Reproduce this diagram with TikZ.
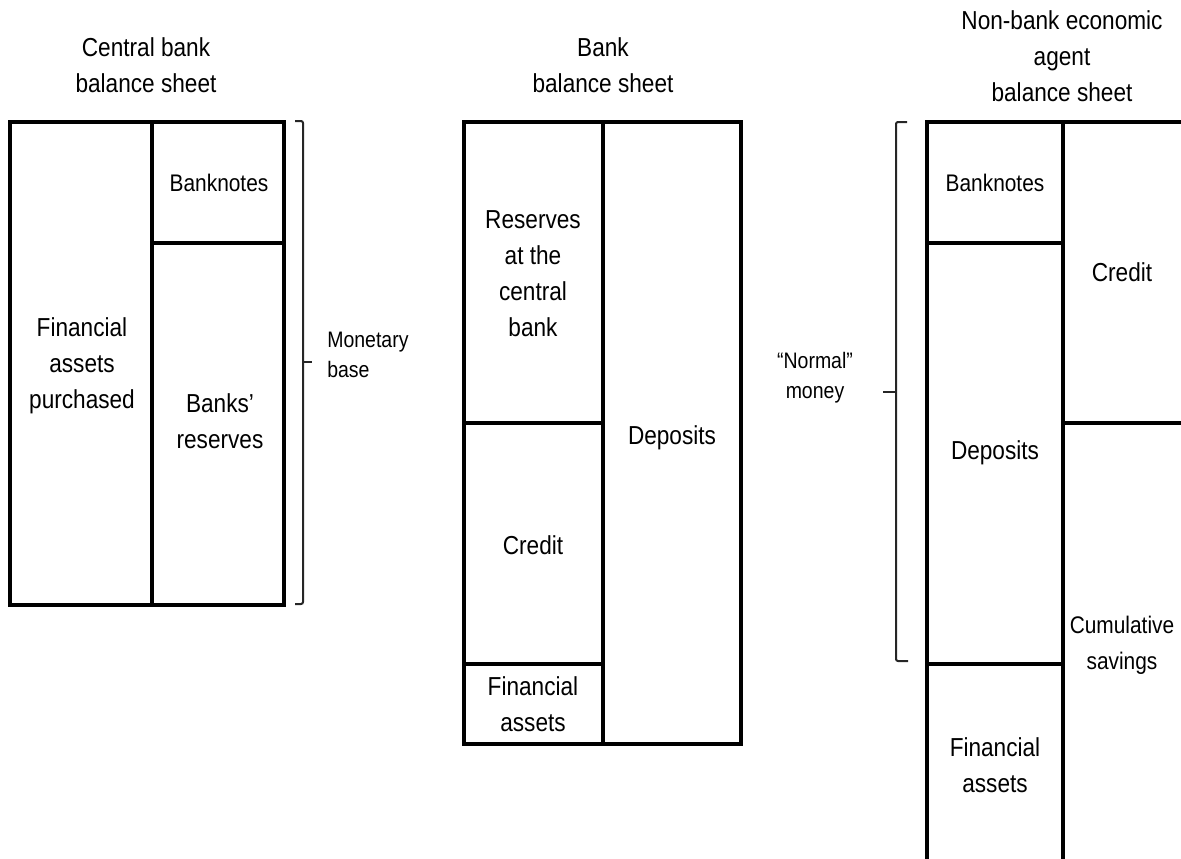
\documentclass[tikz,border=0pt]{standalone}
\usepackage{fontspec}
\setmainfont[FakeStretch=0.87]{Liberation Sans}
\begin{document}
\begin{tikzpicture}[x=0.75pt,y=-0.75pt,
  sheet/.style={line width=2.3pt,line cap=rect},
  brace/.style={line width=1.5pt,rounded corners=1.5pt,black!85},
  big/.style={align=center,font=\fontsize{19.5}{27}\selectfont,inner sep=0pt},
  mid/.style={align=center,font=\fontsize{18}{27}\selectfont,inner sep=0pt},
  small/.style={align=center,font=\fontsize{16.8}{22.5}\selectfont,inner sep=0pt}]
\useasboundingbox (0,0) rectangle (1181,858);
\clip (0,0) rectangle (1181,858);
% titles
\node[big] (t1) at (146,65) {Central bank\\balance sheet};
\node[big] (t2) at (603,65) {Bank\\balance sheet};
\node[big] (t3) at (1062,56) {Non-bank economic\\agent\\balance sheet};
% central bank
\draw[sheet] (10,122) rectangle (284,605);
\draw[sheet] (152,122) -- (152,605);
\draw[sheet] (152,243) -- (284,243);
\node[big] (cbfa) at (82,366) {Financial\\assets\\purchased};
\node[mid] (cbbn) at (219,183) {Banknotes};
\node[big] (cbres) at (220,421) {Banks’\\reserves};
% monetary base bracket
\draw[brace] (295,121) -- (303,121) -- (303,604) -- (295,604);
\draw[brace] (303,362) -- (312,362);
\node[small,align=left,anchor=west] (mb) at (327,355) {Monetary\\base};
% bank
\draw[sheet] (464,122) rectangle (741,744);
\draw[sheet] (603,122) -- (603,744);
\draw[sheet] (464,423) -- (603,423);
\draw[sheet] (464,664) -- (603,664);
\node[big] (bres) at (533,274) {Reserves\\at the\\central\\bank};
\node[big] (bcr) at (533,545) {Credit};
\node[big] (bfa) at (533,704) {Financial\\assets};
\node[big] (bdep) at (672,438) {Deposits};
% normal money bracket
\draw[brace] (907,122) -- (896,122) -- (896,661) -- (908,661);
\draw[brace] (896,392) -- (883,392);
\node[small] (nm) at (815,378) {“Normal”\\money};
% non-bank agent
\draw[sheet] (927,122) rectangle (1195,875);
\draw[sheet] (1063,122) -- (1063,875);
\draw[sheet] (927,243) -- (1063,243);
\draw[sheet] (927,664) -- (1063,664);
\draw[sheet] (1063,423) -- (1195,423);
\node[mid] (nbn) at (995,183) {Banknotes};
\node[big] (ndep) at (995,453) {Deposits};
\node[big] (nfa) at (995,765) {Financial\\assets};
\node[big] (ncr) at (1122,272) {Credit};
\node[mid] (ncs) at (1122,645) {Cumulative\\savings};
\end{tikzpicture}
\end{document}
